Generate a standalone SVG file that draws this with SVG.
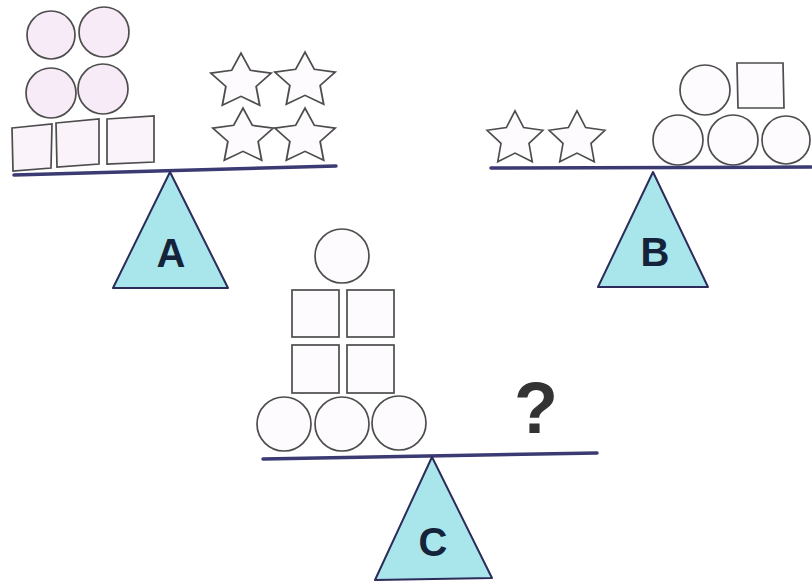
<svg xmlns="http://www.w3.org/2000/svg" width="812" height="586" viewBox="0 0 812 586">
<style>
.shape{fill:#fdfbfd;stroke:#4d4d4d;stroke-width:1.7}
.pink{fill:#f6ebf6;stroke:#4d4d4d;stroke-width:1.7}
.pale{fill:#faf4fa;stroke:#4d4d4d;stroke-width:1.7}
.beam{stroke:#3b3a72;stroke-width:3.5;stroke-linecap:round;fill:none}
.tri{fill:#a9e6ec;stroke:#2c2c5a;stroke-width:2;stroke-linejoin:round}
.lbl{font-family:"Liberation Sans",Arial,sans-serif;font-weight:bold;fill:#15233a;text-anchor:middle}
</style>
<defs>
<path id="star" d="M0,-30 L8.82,-12.14 L28.53,-9.27 L14.27,4.64 L17.63,24.27 L0,15 L-17.63,24.27 L-14.27,4.64 L-28.53,-9.27 L-8.82,-12.14 Z"/>
</defs>
<rect width="812" height="586" fill="#ffffff"/>

<g id="scale-A">
  <circle class="pink" cx="51" cy="35" r="24"/>
  <circle class="pink" cx="104" cy="32" r="25"/>
  <circle class="pink" cx="51" cy="93" r="25"/>
  <circle class="pink" cx="103" cy="89" r="25"/>
  <polygon class="pale" points="12,128 52,124 51,168 13,171"/>
  <polygon class="pale" points="56,123 99,119 99,164 57,167"/>
  <polygon class="pale" points="107,119 154,116 154,162 107,164"/>
  <use href="#star" class="shape" transform="translate(241,82) scale(1.06,0.96)"/>
  <use href="#star" class="shape" transform="translate(305,81) scale(1.06,0.96)"/>
  <use href="#star" class="shape" transform="translate(243,137) scale(1.06,0.96)"/>
  <use href="#star" class="shape" transform="translate(305,137) scale(1.06,0.96)"/>
  <g id="beam-A"><line class="beam" x1="14" y1="175" x2="336" y2="166"/></g>
  <polygon class="tri" points="170,172 113,288 228,288"/>
  <text class="lbl" x="171" y="267" font-size="40">A</text>
</g>

<g id="scale-B">
  <use href="#star" class="shape" transform="translate(515,139) scale(0.98,0.94)"/>
  <use href="#star" class="shape" transform="translate(577,139) scale(0.98,0.94)"/>
  <circle class="shape" cx="705" cy="90" r="25"/>
  <polygon class="shape" points="737,63 783,63 784,108 738,108"/>
  <circle class="shape" cx="678" cy="140" r="25"/>
  <circle class="shape" cx="733" cy="140" r="25"/>
  <circle class="shape" cx="786" cy="140" r="24"/>
  <g id="beam-B"><line class="beam" x1="491" y1="168" x2="811" y2="167"/></g>
  <polygon class="tri" points="653,172 598,287 708,287"/>
  <text class="lbl" x="655" y="266" font-size="40">B</text>
</g>

<g id="scale-C">
  <circle class="shape" cx="342" cy="256" r="27"/>
  <rect class="shape" x="292" y="290" width="47" height="47"/>
  <rect class="shape" x="347" y="290" width="47" height="47"/>
  <rect class="shape" x="292" y="345" width="47" height="48"/>
  <rect class="shape" x="347" y="345" width="47" height="48"/>
  <circle class="shape" cx="284" cy="424" r="27"/>
  <circle class="shape" cx="342" cy="424" r="27"/>
  <circle class="shape" cx="399" cy="423" r="27"/>
  <text x="536" y="433" font-size="72" font-family="Liberation Sans, Arial, sans-serif" font-weight="bold" fill="#333333" text-anchor="middle">?</text>
  <g id="beam-C"><line class="beam" x1="263" y1="459" x2="597" y2="453"/></g>
  <polygon class="tri" points="432,457 375,580 492,578"/>
  <text class="lbl" x="433" y="556" font-size="40">C</text>
</g>
</svg>
